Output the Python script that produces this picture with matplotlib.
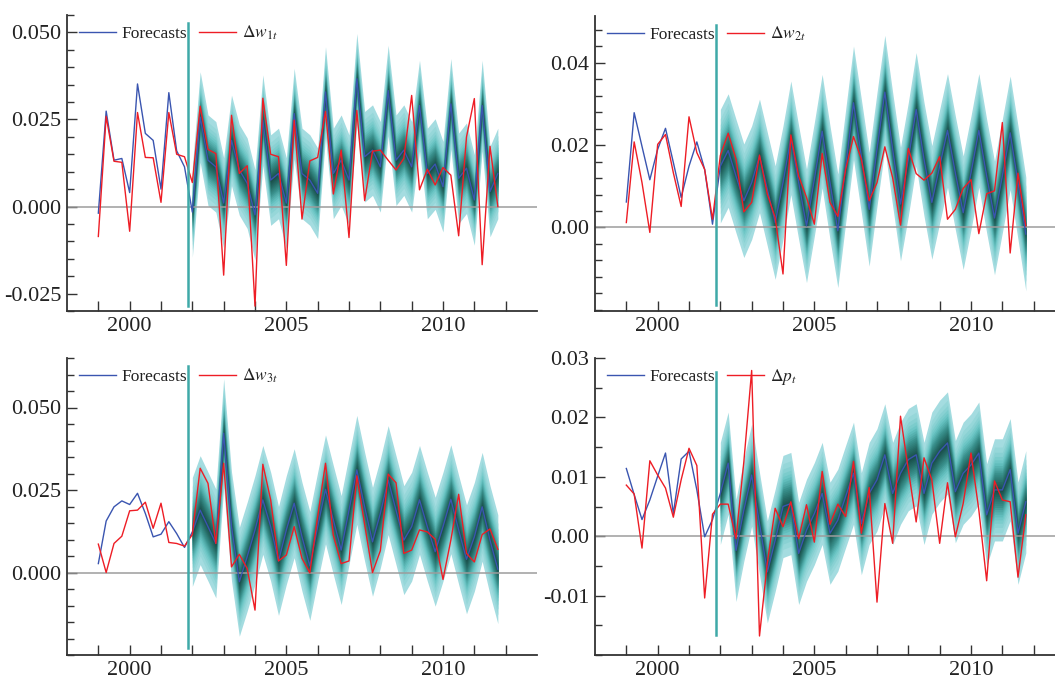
import numpy as np
import matplotlib
matplotlib.use('Agg')
import matplotlib.pyplot as plt
from matplotlib.ticker import MultipleLocator, FixedLocator, FormatStrFormatter
from matplotlib.colors import LinearSegmentedColormap

plt.rcParams['font.family'] = 'serif'
plt.rcParams['font.serif'] = ['Liberation Serif', 'DejaVu Serif']
plt.rcParams['mathtext.fontset'] = 'stix'

# quarterly sample, 1999Q1 - 2011Q4; forecasts start 2002Q1
start_year = 1999
n_insample = 12

# panel 1: w1
fc_w1 = [-0.0019, 0.0274, 0.0133, 0.0138, 0.0040, 0.0352, 0.0210, 0.0190, 0.0050, 0.0327, 0.0160, 0.0114,
         -0.0016, 0.0257, 0.0133, 0.0114, 0.0010, 0.0190, 0.0105, 0.0067, -0.0024, 0.0248, 0.0076, 0.0095,
         0.0010, 0.0267, 0.0095, 0.0076, 0.0038, 0.0329, 0.0095, 0.0133, 0.0076, 0.0367, 0.0143, 0.0162,
         0.0114, 0.0333, 0.0133, 0.0162, 0.0114, 0.0290, 0.0095, 0.0122, 0.0057, 0.0295, 0.0081, 0.0110,
         0.0019, 0.0290, 0.0043, 0.0095]
dw1 = [-0.0086, 0.0259, 0.0130, 0.0127, -0.0071, 0.0270, 0.0141, 0.0140, 0.0012, 0.0270, 0.0150, 0.0143,
       0.0069, 0.0288, 0.0164, 0.0152, -0.0197, 0.0262, 0.0095, 0.0117, -0.0286, 0.0311, 0.0150, 0.0143,
       -0.0169, 0.0248, -0.0036, 0.0131, 0.0141, 0.0273, 0.0036, 0.0162, -0.0089, 0.0276, 0.0017, 0.0159,
       0.0162, 0.0133, 0.0105, 0.0138, 0.0319, 0.0048, 0.0107, 0.0062, 0.0112, 0.0090, -0.0084, 0.0200,
       0.0310, -0.0167, 0.0173, 0.0000]

# panel 2: w2
fc_w2 = [0.0062, 0.0279, 0.0197, 0.0116, 0.0190, 0.0241, 0.0158, 0.0073, 0.0149, 0.0208, 0.0141, 0.0008,
         0.0149, 0.0187, 0.0125, 0.0065, 0.0109, 0.0174, 0.0093, 0.0012, 0.0109, 0.0218, 0.0109, 0.0004,
         0.0117, 0.0234, 0.0109, -0.0008, 0.0149, 0.0303, 0.0174, 0.0044, 0.0190, 0.0329, 0.0190, 0.0057,
         0.0166, 0.0287, 0.0166, 0.0061, 0.0149, 0.0236, 0.0133, 0.0036, 0.0133, 0.0236, 0.0125, 0.0023,
         0.0125, 0.0230, 0.0109, -0.0016]
dw2 = [0.0012, 0.0208, 0.0109, -0.0012, 0.0202, 0.0226, 0.0133, 0.0051, 0.0269, 0.0182, 0.0141, 0.0020,
       0.0175, 0.0229, 0.0166, 0.0038, 0.0061, 0.0176, 0.0081, 0.0024, -0.0113, 0.0225, 0.0125, 0.0073,
       0.0008, 0.0180, 0.0061, 0.0027, 0.0141, 0.0221, 0.0166, 0.0065, 0.0109, 0.0196, 0.0121, 0.0006,
       0.0192, 0.0131, 0.0115, 0.0132, 0.0172, 0.0020, 0.0044, 0.0095, 0.0116, -0.0015, 0.0082, 0.0089,
       0.0255, -0.0062, 0.0132, 0.0004]

# panel 3: w3
fc_w3 = [0.0027, 0.0156, 0.0199, 0.0217, 0.0206, 0.0240, 0.0179, 0.0108, 0.0116, 0.0154, 0.0118, 0.0076,
         0.0123, 0.0189, 0.0139, 0.0088, 0.0422, 0.0140, -0.0028, 0.0048, 0.0129, 0.0220, 0.0139, 0.0035,
         0.0129, 0.0210, 0.0108, 0.0020, 0.0139, 0.0252, 0.0159, 0.0068, 0.0189, 0.0311, 0.0199, 0.0093,
         0.0179, 0.0280, 0.0189, 0.0098, 0.0139, 0.0220, 0.0139, 0.0063, 0.0139, 0.0222, 0.0129, 0.0040,
         0.0108, 0.0199, 0.0098, 0.0010]
dw3 = [0.0086, 0.0000, 0.0088, 0.0110, 0.0187, 0.0189, 0.0213, 0.0134, 0.0210, 0.0091, 0.0088, 0.0080,
       0.0115, 0.0316, 0.0270, 0.0088, 0.0331, 0.0017, 0.0055, 0.0012, -0.0114, 0.0328, 0.0220, 0.0035,
       0.0053, 0.0139, 0.0043, -0.0001, 0.0169, 0.0331, 0.0113, 0.0027, 0.0035, 0.0293, 0.0146, 0.0000,
       0.0066, 0.0298, 0.0272, 0.0058, 0.0068, 0.0129, 0.0123, 0.0101, -0.0021, 0.0098, 0.0237, 0.0058,
       0.0032, 0.0115, 0.0132, 0.0070]

# panel 4: p
fc_p = [0.0114, 0.0070, 0.0028, 0.0061, 0.0101, 0.0140, 0.0038, 0.0130, 0.0143, 0.0078, -0.0001, 0.0028,
        0.0072, 0.0123, -0.0024, 0.0044, 0.0103, 0.0021, -0.0060, -0.0007, 0.0050, 0.0055, -0.0029, 0.0010,
        0.0038, 0.0072, 0.0005, 0.0027, 0.0067, 0.0106, 0.0021, 0.0072, 0.0095, 0.0137, 0.0072, 0.0106,
        0.0129, 0.0137, 0.0072, 0.0123, 0.0143, 0.0157, 0.0075, 0.0106, 0.0120, 0.0140, 0.0036, 0.0078,
        0.0078, 0.0112, 0.0005, 0.0058]
dp = [0.0086, 0.0071, -0.0020, 0.0127, 0.0103, 0.0081, 0.0032, 0.0095, 0.0148, 0.0119, -0.0104, 0.0037,
      0.0054, 0.0054, -0.0004, 0.0125, 0.0279, -0.0168, -0.0045, 0.0047, 0.0016, 0.0058, -0.0004, 0.0053,
      -0.0010, 0.0109, 0.0020, 0.0054, 0.0033, 0.0126, 0.0005, 0.0082, -0.0111, 0.0055, -0.0012, 0.0202,
      0.0112, 0.0024, 0.0132, 0.0095, -0.0012, 0.0090, -0.0001, 0.0055, 0.0140, 0.0044, -0.0075, 0.0093,
      0.0061, 0.0058, -0.0069, 0.0036]

# outer half-width of the forecast fan in each panel
fan_width = [0.0130, 0.0138, 0.0165, 0.0086]
labels = [r'$\Delta w_{1t}$', r'$\Delta w_{2t}$', r'$\Delta w_{3t}$', r'$\Delta p_t$']

# fan band fractions (95% ... 5% bands relative to the outer one)
band_frac = [1.000, 0.839, 0.735, 0.654, 0.587, 0.529, 0.477, 0.429, 0.385, 0.344,
             0.305, 0.268, 0.232, 0.197, 0.163, 0.129, 0.096, 0.064, 0.032]
fan_cmap = LinearSegmentedColormap.from_list('fan', ['#a4dce0', '#66c3c2', '#3a918d', '#266d68', '#1a4f4b'])

BLUE = '#3a55b0'
RED = '#ee1d25'
TEAL = '#3fa9a8'


def draw_panel(ax, fc, obs, hw, label, ylim, majors, minor_step, fmt, vspan):
    t = start_year + np.arange(len(fc)) / 4.0
    fc = np.array(fc)
    tf = t[n_insample:]
    ff = fc[n_insample:]
    nb = len(band_frac)
    for k, fr in enumerate(band_frac):
        ax.fill_between(tf, ff - fr * hw, ff + fr * hw, color=fan_cmap(k / (nb - 1)),
                        lw=0, zorder=1)
    ax.axhline(0, color='#9c9c9c', lw=1.1, zorder=2)
    ax.plot(t, fc, color=BLUE, lw=1.0, label='Forecasts', zorder=3)
    ax.plot(t, obs, color=RED, lw=1.0, label=label, zorder=4)
    ax.axvline(2001.875, ymin=vspan[0], ymax=vspan[1], color=TEAL, lw=1.8, zorder=5)

    ax.set_xlim(1998, 2013)
    ax.set_ylim(*ylim)
    years = list(range(1999, 2013))
    ax.set_xticks(years)
    ax.set_xticklabels([str(y) if y % 5 == 0 else '' for y in years])
    ax.yaxis.set_major_locator(FixedLocator(majors))
    ax.yaxis.set_major_formatter(FormatStrFormatter(fmt))
    ax.yaxis.set_minor_locator(MultipleLocator(minor_step))
    ax.tick_params(which='major', direction='in', length=7, width=1.0, labelsize=16,
                   pad=4, colors='#333333', labelcolor='#222222')
    ax.tick_params(which='minor', direction='in', length=5, width=1.0, colors='#333333')
    ax.tick_params(axis='x', which='minor', bottom=False)
    for s in ['top', 'right']:
        ax.spines[s].set_visible(False)
    for s in ['left', 'bottom']:
        ax.spines[s].set_linewidth(1.3)
        ax.spines[s].set_color('#333333')
    leg = ax.legend(loc='upper left', bbox_to_anchor=(0.0, 1.012), frameon=False, ncol=2,
                    fontsize=12.5, handlelength=2.1, handletextpad=0.35, columnspacing=0.7,
                    borderaxespad=0.3)
    for txt in leg.get_texts():
        txt.set_color('#222222')


fig = plt.figure(figsize=(10.55, 6.82), dpi=100)
W, H = 1055.0, 682.0
ax1 = fig.add_axes([67 / W, 1 - 311 / H, 470 / W, 296 / H])
ax2 = fig.add_axes([595 / W, 1 - 311 / H, 470 / W, 295 / H])
ax3 = fig.add_axes([67 / W, 1 - 655 / H, 470 / W, 297 / H])
ax4 = fig.add_axes([595 / W, 1 - 655 / H, 470 / W, 297 / H])

draw_panel(ax1, fc_w1, dw1, fan_width[0], labels[0], (-0.030, 0.055),
           [-0.025, 0.0, 0.025, 0.050], 0.005, '%.3f', (0.017, 0.974))
draw_panel(ax2, fc_w2, dw2, fan_width[1], labels[1], (-0.0203, 0.0514),
           [0.0, 0.02, 0.04], 0.004, '%.2f', (0.02, 0.97))
draw_panel(ax3, fc_w3, dw3, fan_width[2], labels[2], (-0.025, 0.065),
           [0.0, 0.025, 0.050], 0.005, '%.3f', (0.024, 0.972))
draw_panel(ax4, fc_p, dp, fan_width[3], labels[3], (-0.020, 0.030),
           [-0.01, 0.0, 0.01, 0.02, 0.03], 0.005, '%.2f', (0.067, 0.953))

fig.savefig('out.png', dpi=100)
